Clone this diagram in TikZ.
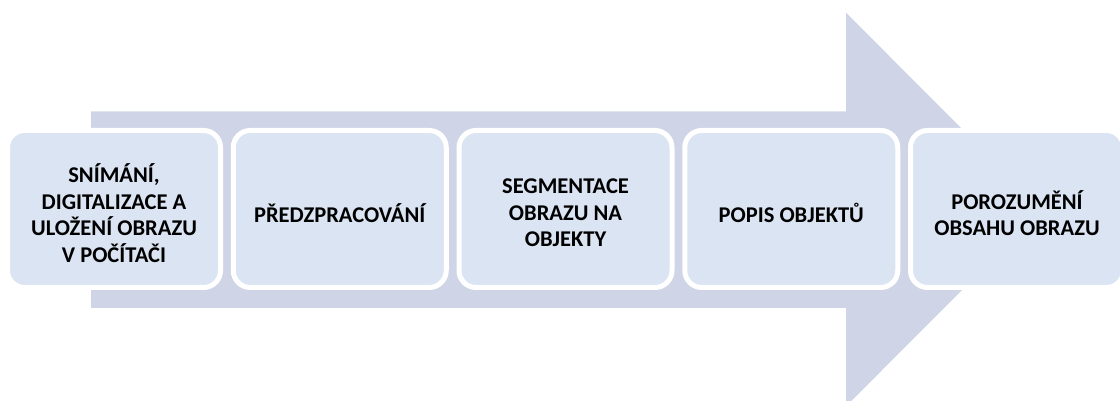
\documentclass[tikz,border=0pt]{standalone}
\usepackage{fontspec}
\setmainfont{Carlito}
\definecolor{arrowfill}{RGB}{207,213,231}
\definecolor{boxfill}{RGB}{219,228,242}
\tikzset{
  stepbox/.style={rectangle, draw=white, line width=5pt, fill=boxfill,
    rounded corners=17pt, minimum width=213pt, minimum height=157pt,
    inner sep=0pt},
  steptext/.style={inner sep=0pt, align=center,
    font=\fontsize{22.5}{26.7}\selectfont\bfseries, text=black},
}
\begin{document}
\begin{tikzpicture}[x=1pt,y=1pt]
\useasboundingbox (0,0) rectangle (1120,401);
\clip (0,0) rectangle (1120,401);
\fill[arrowfill] (91,289.5) -- (846,289.5) -- (846,388.3) -- (1042.5,191.5)
  -- (846,-5.3) -- (846,93) -- (91,93) -- cycle;
\node[stepbox] (s1) at (114,192) {};
\node[stepbox] (s2) at (339.75,192) {};
\node[stepbox] (s3) at (565.5,192) {};
\node[stepbox] (s4) at (791.25,192) {};
\node[stepbox] (s5) at (1017,192) {};
\node[steptext] (t1) at ([yshift=-4pt]s1.center) {SNÍMÁNÍ,\\DIGITALIZACE A\\ULOŽENÍ OBRAZU\\V POČÍTAČI};
\node[steptext] (t2) at ([yshift=-4pt]s2.center) {PŘEDZPRACOVÁNÍ};
\node[steptext] (t3) at ([yshift=-4pt]s3.center) {SEGMENTACE\\OBRAZU NA\\OBJEKTY};
\node[steptext] (t4) at ([yshift=-4pt]s4.center) {POPIS OBJEKTŮ};
\node[steptext] (t5) at ([yshift=-4pt]s5.center) {POROZUMĚNÍ\\OBSAHU OBRAZU};
\end{tikzpicture}
\end{document}
